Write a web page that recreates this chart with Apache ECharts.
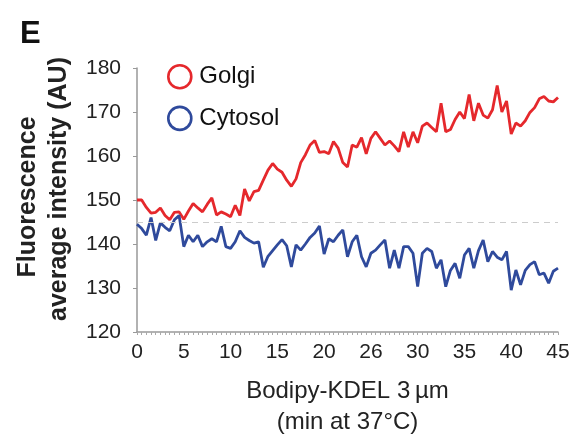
<!DOCTYPE html>
<html>
<head>
<meta charset="utf-8">
<script src="https://cdn.jsdelivr.net/npm/echarts@6/dist/echarts.min.js"></script>
<style>html,body{margin:0;padding:0;background:#fff}#c{width:574px;height:438px}</style>
</head>
<body>
<div id="c"></div>
<script>
// x tick labels shown every 10th sample (as printed on the original axis)
var tickLabels = ['0', '5', '10', '15', '20', '26', '30', '35', '40', '45'];
var samplesPerTick = 10;

var golgi = [150, 150, 148.3, 147, 147.2, 148.2, 146.5, 145.5, 147.2, 147.3,
  145.6, 147.5, 149.2, 148.2, 147.3, 149, 150.5, 146.6, 147.3, 146.8,
  146.2, 148.8, 146.5, 152.5, 149.8, 151.9, 152.2, 154.5, 156.8, 158.3,
  157, 156.3, 154.5, 153.1, 154.8, 158.5, 160.3, 162.5, 163.5, 160.8,
  161, 160.5, 163.3, 161.8, 158.5, 157.5, 162.5, 162, 164.2, 160.5,
  164, 165.5, 164, 162.5, 163.4, 162.3, 161, 165.5, 162, 165.5,
  163, 166.8, 167.5, 166.5, 165.5, 172, 165.5, 166, 168.3, 170,
  168.5, 174, 168, 172, 169.3, 168.6, 170.5, 176, 170, 172.5,
  165, 167.5, 166.8, 168, 169.9, 171, 173, 173.5, 172.5, 172.3, 173.3];

var cytosol = [144.5, 143.5, 142, 146, 140.8, 144.8, 143.8, 143, 145.5, 146.5,
  139.4, 142, 140.5, 142, 139.4, 140.5, 141.2, 140.5, 144, 139.4,
  139, 140.5, 143, 141.5, 140.8, 140.2, 140.5, 134.7, 137.2, 138.5,
  139.8, 141, 139.6, 134.8, 139.8, 138.6, 140, 141.5, 142.5, 144.1,
  137.7, 141.2, 140.5, 142, 143.2, 137.1, 140.5, 142, 137.1, 134.8,
  137.9, 138.6, 139.8, 140.9, 134.5, 138.6, 134.5, 139.4, 139.4, 137.9,
  130.3, 137.9, 139, 138.3, 134.5, 136.4, 130.3, 134, 135.6, 132.2,
  137.5, 139, 134.5, 138.5, 140.9, 136, 138.3, 137, 136.4, 138.3,
  129.5, 134.1, 130.7, 134, 135.3, 136, 133, 133.4, 131.1, 133.8, 134.5];

var refLine = 145;
var yTicks = {min: 120, max: 180, step: 10};

var categories = [];
for (var i = 0; i < golgi.length; i++) {
  categories.push(i % samplesPerTick === 0 ? tickLabels[i / samplesPerTick] : '');
}

var RED = '#e5282c', BLUE = '#2f4a9c';
var FONT = 'Liberation Sans, Arial, sans-serif';

var chart = echarts.init(document.getElementById('c'), null, {renderer: 'canvas'});
chart.setOption({
  animation: false,
  backgroundColor: '#fff',
  title: {
    text: 'E', left: 15, top: 14,
    textStyle: {fontFamily: FONT, fontSize: 31, fontWeight: 'bold', color: '#111'}
  },
  legend: {
    orient: 'vertical', left: 167, top: 64, itemGap: 16, padding: 0,
    itemWidth: 23, itemHeight: 23, icon: 'circle',
    textStyle: {fontFamily: FONT, fontSize: 24, lineHeight: 23, color: '#111', padding: [0, 0, 0, 3]},
    data: [
      {name: 'Golgi', itemStyle: {color: '#fff', borderColor: RED, borderWidth: 2.6}},
      {name: 'Cytosol', itemStyle: {color: '#fff', borderColor: BLUE, borderWidth: 2.6}}
    ]
  },
  grid: {left: 137, right: 16, top: 68, bottom: 106, containLabel: false, outerBoundsMode: 'none'},
  xAxis: {
    type: 'category', data: categories, boundaryGap: false,
    name: 'Bodipy-KDEL 3\u2009\u00b5m\n(min at 37\u00b0C)',
    nameLocation: 'middle', nameGap: 44,
    nameTextStyle: {fontFamily: FONT, fontSize: 24, color: '#222', lineHeight: 31},
    axisLine: {lineStyle: {color: '#999', width: 1.5}},
    axisTick: {show: true, interval: 0, length: 3, lineStyle: {color: '#aaa'}},
    axisLabel: {interval: 0, margin: 10, fontFamily: FONT, fontSize: 21, color: '#222'},
    splitLine: {show: false}
  },
  yAxis: {
    type: 'value', min: yTicks.min, max: yTicks.max, interval: yTicks.step,
    name: '{a|Fluorescence}\n{b|average intensity (AU)}',
    nameLocation: 'middle', nameGap: 62, nameRotate: 90,
    nameTextStyle: {
      fontFamily: FONT, fontSize: 25, fontWeight: 'bold', color: '#222', lineHeight: 31,
      rich: {
        a: {fontFamily: FONT, fontSize: 25, fontWeight: 'bold', color: '#222', lineHeight: 31, padding: [0, 0, 0, 6]},
        b: {fontFamily: FONT, fontSize: 25, fontWeight: 'bold', color: '#222', lineHeight: 31, padding: [0, 0, 0, 22]}
      }
    },
    axisLine: {show: true, lineStyle: {color: '#999', width: 1.5}},
    axisTick: {show: true, length: 4, lineStyle: {color: '#999'}},
    axisLabel: {margin: 16, fontFamily: FONT, fontSize: 21, color: '#222'},
    splitLine: {show: false}
  },
  series: [
    {
      name: 'Golgi', type: 'line', data: golgi, symbol: 'none',
      lineStyle: {color: RED, width: 2.8}, itemStyle: {color: RED},
      markLine: {
        silent: true, symbol: 'none', label: {show: false},
        lineStyle: {color: '#ccc', type: [6, 5], width: 1},
        data: [{yAxis: refLine}]
      },
      z: 3
    },
    {
      name: 'Cytosol', type: 'line', data: cytosol, symbol: 'none',
      lineStyle: {color: BLUE, width: 2.8}, itemStyle: {color: BLUE},
      z: 3
    }
  ]
});
</script>
</body>
</html>
